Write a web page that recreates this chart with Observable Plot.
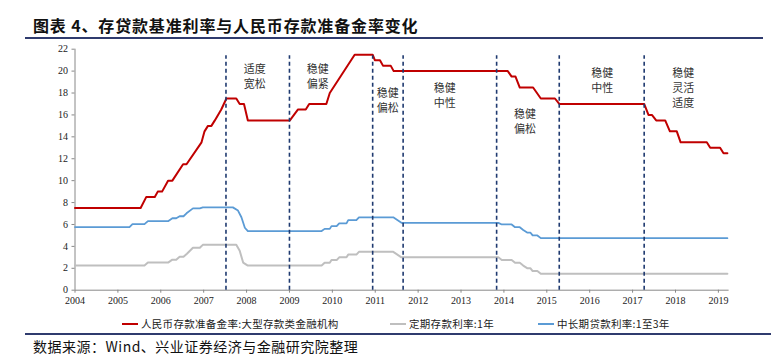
<!DOCTYPE html>
<html><head><meta charset="utf-8">
<script src="https://cdn.jsdelivr.net/npm/d3@7"></script>
<script src="https://cdn.jsdelivr.net/npm/@observablehq/plot@0.6"></script>
<style>
body{margin:0;background:#fff;width:771px;height:362px;position:relative;overflow:hidden;font-family:"Noto Sans CJK SC",sans-serif;}
#title{position:absolute;left:33px;top:17px;font-size:16px;line-height:16px;font-weight:bold;color:#111;letter-spacing:0.85px;white-space:nowrap}
.rule{position:absolute;left:25px;height:2px;background:#2F3B6E}
#chart{position:absolute;left:0;top:40px}
#chart svg text{font-family:"Liberation Serif","Times New Roman",serif}
#chart svg g[aria-label="text"] text{font-family:"Noto Sans CJK SC",sans-serif}
.leg{position:absolute;top:318px;font-size:10.5px;line-height:11px;color:#222;white-space:nowrap;letter-spacing:0.3px}
.sw{display:inline-block;width:16px;height:2px;vertical-align:middle;margin-right:3px;position:relative;top:-1px}
#source{position:absolute;left:33px;top:339px;font-size:14px;line-height:14px;color:#111;letter-spacing:0.5px;white-space:nowrap}
</style></head>
<body>
<div id="title">图表 4、存贷款基准利率与人民币存款准备金率变化</div>
<div class="rule" style="top:37px;width:738px"></div>
<div id="chart"></div>
<div id="legend"></div>
<div class="rule" style="top:333px;width:746px"></div>
<div id="source">数据来源：Wind、兴业证券经济与金融研究院整理</div>
<script>
// Series names
const seriesNames = ["人民币存款准备金率:大型存款类金融机构", "定期存款利率:1年", "中长期贷款利率:1至3年"];
const seriesColors = ["#C00000", "#BFBFBF", "#5B9BD5"];

// Reserve requirement ratio (large institutions), %
const rrrX = [2004.0,2005.53,2005.66,2005.86,2005.93,2006.03,2006.17,2006.27,2006.52,2006.60,2006.95,2007.02,2007.10,2007.18,2007.26,2007.41,2007.53,2007.76,2007.84,2007.94,2008.03,2009.01,2009.20,2009.38,2009.46,2009.86,2009.94,2010.52,2010.94,2010.99,2011.11,2011.18,2011.36,2011.43,2014.09,2014.18,2014.27,2014.37,2014.68,2014.86,2015.19,2015.29,2017.27,2017.37,2017.45,2017.55,2017.76,2017.87,2018.03,2018.12,2018.73,2018.81,2019.04,2019.12,2019.21];
const rrrY = [7.5,7.5,8.5,8.5,9,9,10,10,11.5,11.5,13.5,14.5,15,15,15.5,16.5,17.5,17.5,17,17,15.5,15.5,16.5,16.5,17,17,18,21.5,21.5,21,21,20.5,20.5,20,20,19.5,19.5,18.5,18.5,17.5,17.5,17,17,16,16,15.5,15.5,14.5,14.5,13.5,13.5,13,13,12.5,12.5];

// 1-year time deposit rate, %
const depX = [2004.0,2005.62,2005.70,2006.17,2006.27,2006.36,2006.44,2006.53,2006.61,2006.75,2006.91,2006.98,2007.76,2007.84,2007.92,2008.03,2009.75,2009.82,2009.94,2009.98,2010.10,2010.16,2010.33,2010.37,2010.56,2010.62,2011.42,2011.61,2013.87,2013.95,2014.18,2014.26,2014.37,2014.45,2014.55,2014.62,2014.67,2014.78,2014.86,2019.21];
const depY = [2.25,2.25,2.52,2.52,2.79,2.79,3.06,3.06,3.33,3.87,3.87,4.14,4.14,3.60,2.52,2.25,2.25,2.50,2.50,2.75,2.75,3.00,3.00,3.25,3.25,3.50,3.50,3.00,3.00,2.75,2.75,2.50,2.50,2.25,2.00,2.00,1.75,1.75,1.50,1.50];

// 1-3 year loan rate, %
const loanX = [2004.0,2005.27,2005.34,2005.62,2005.70,2006.17,2006.27,2006.36,2006.44,2006.53,2006.60,2006.75,2006.91,2006.98,2007.68,2007.80,2007.88,2007.96,2008.03,2009.75,2009.82,2009.94,2009.98,2010.10,2010.16,2010.33,2010.37,2010.56,2010.62,2011.42,2011.61,2013.87,2013.95,2014.18,2014.26,2014.37,2014.45,2014.55,2014.62,2014.67,2014.78,2014.86,2019.21];
const loanY = [5.76,5.76,6.03,6.03,6.30,6.30,6.57,6.57,6.75,6.75,7.02,7.47,7.47,7.56,7.56,7.27,6.66,5.70,5.40,5.40,5.60,5.60,5.85,5.85,6.10,6.10,6.40,6.40,6.65,6.65,6.15,6.15,6.00,6.00,5.75,5.75,5.50,5.25,5.25,5.00,5.00,4.75,4.75];

// Policy regime boundaries and labels
const regimeX = [2007.52, 2009.0, 2010.94, 2011.65, 2013.83, 2015.29, 2017.27];
const noteText = ["适度\n宽松", "稳健\n偏紧", "稳健\n偏松", "稳健\n中性", "稳健\n偏松", "稳健\n中性", "稳健\n灵活\n适度"];
const noteX = [2008.19, 2009.66, 2011.29, 2012.62, 2014.49, 2016.29, 2018.18];
const noteY = [19.55, 19.55, 17.36, 17.82, 15.45, 19.19, 18.5];

const xTicks = d3.range(2004, 2020);
const yTicks = d3.range(0, 23, 2);

const toRows = (xs, ys) => xs.map((x, i) => ({x, y: ys[i]}));
const notes = noteText.map((t, i) => ({t, x: noteX[i], y: noteY[i]}));

const chart = Plot.plot({
  width: 771,
  height: 272,
  marginLeft: 74.5,
  marginRight: 42.4,
  marginTop: 8.7,
  marginBottom: 22.3,
  style: "font-family:'Liberation Serif','Times New Roman',serif;font-size:10px;color:#222;background:transparent;",
  x: {domain: [2004, 2019.25], ticks: xTicks, tickFormat: d => String(d), label: null},
  y: {domain: [0, 22], ticks: yTicks, label: null},
  marks: [
    Plot.axisX({ticks: xTicks, tickFormat: d => String(d), tickSize: 3, tickPadding: 4, stroke: "#888", fill: "#222", label: null}),
    Plot.axisY({ticks: yTicks, tickSize: 3, tickPadding: 4, stroke: "#888", fill: "#222", label: null}),
    Plot.ruleY([0], {stroke: "#888", strokeWidth: 1}),
    Plot.ruleX([2004], {stroke: "#888", strokeWidth: 1}),
    Plot.line(toRows(depX, depY), {x: "x", y: "y", stroke: seriesColors[1], strokeWidth: 2}),
    Plot.line(toRows(loanX, loanY), {x: "x", y: "y", stroke: seriesColors[2], strokeWidth: 1.8}),
    Plot.line(toRows(rrrX, rrrY), {x: "x", y: "y", stroke: seriesColors[0], strokeWidth: 2}),
    Plot.ruleX(regimeX, {y1: 0, y2: 21.4, stroke: "#1F3A70", strokeWidth: 1.6, strokeDasharray: "4,3"}),
    Plot.text(notes, {x: "x", y: "y", text: "t", fontFamily: "'Noto Sans CJK SC', sans-serif", fontSize: 11, lineHeight: 1.36, fill: "#333", textAnchor: "middle"})
  ]
});
document.getElementById("chart").appendChild(chart);

// Legend
const legendLeft = [122, 390, 538];
const legend = document.getElementById("legend");
seriesNames.forEach((name, i) => {
  const d = document.createElement("div");
  d.className = "leg";
  d.style.left = legendLeft[i] + "px";
  d.innerHTML = `<span class="sw" style="background:${seriesColors[i]}"></span>${name}`;
  legend.appendChild(d);
});
</script>
</body></html>
